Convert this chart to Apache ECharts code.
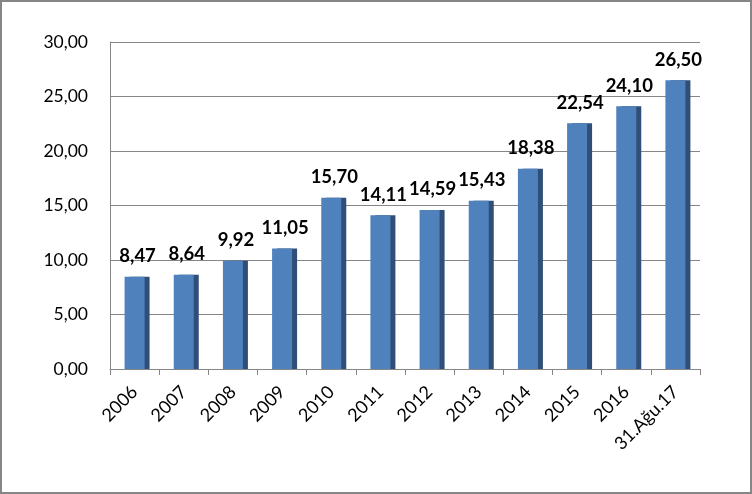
<!DOCTYPE html>
<html><head><meta charset="utf-8">
<script src="https://cdn.jsdelivr.net/npm/echarts@6/dist/echarts.min.js"></script>
<style>html,body{margin:0;padding:0;background:#fff}#c{width:752px;height:494px}</style>
</head><body><div id="c"></div>
<script>
const categories = ['2006','2007','2008','2009','2010','2011','2012','2013','2014','2015','2016','31.Ağu.17'];
const values = [8.47, 8.64, 9.92, 11.05, 15.70, 14.11, 14.59, 15.43, 18.38, 22.54, 24.10, 26.50];
const yTicks = [0, 5, 10, 15, 20, 25, 30];

const fmt = v => v.toFixed(2).replace('.', ',');
const chart = echarts.init(document.getElementById('c'));
chart.setOption({
  animation: false,
  textStyle: {fontFamily: 'Lato'},
  graphic: [{type: 'rect', shape: {x: 1, y: 1, width: 750, height: 492}, style: {fill: 'none', stroke: '#868686', lineWidth: 2}}],
  grid: {left: 110, right: 52, top: 42, bottom: 125},
  xAxis: {
    type: 'category', data: categories,
    axisLine: {lineStyle: {color: '#868686'}},
    axisTick: {show: true, lineStyle: {color: '#868686'}, length: 6},
    axisLabel: {rotate: 45, fontSize: 18, color: '#000', margin: 20, interval: 0, fontFamily: 'Lato'}
  },
  yAxis: {
    type: 'value', min: yTicks[0], max: yTicks[yTicks.length - 1], interval: 5,
    axisLine: {show: true, lineStyle: {color: '#868686'}},
    axisTick: {show: false},
    splitLine: {lineStyle: {color: '#868686', width: 1}},
    axisLabel: {fontSize: 17.5, color: '#000', margin: 22, formatter: fmt, fontFamily: 'Lato'}
  },
  series: [{
    type: 'bar', data: values, barWidth: 20,
    itemStyle: {color: '#4f81bd', shadowColor: '#2f4f78', shadowOffsetX: 5, shadowOffsetY: 0, shadowBlur: 0},
    label: {show: true, position: 'top', distance: 11, offset: [3, 0], fontSize: 18.5, fontWeight: 'bold', color: '#000',
      formatter: p => fmt(p.value), fontFamily: 'Lato'}
  }]
});
</script></body></html>
